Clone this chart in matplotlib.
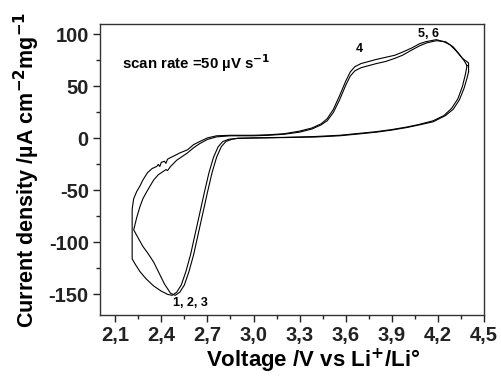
import matplotlib.pyplot as plt
from matplotlib.ticker import MultipleLocator, FuncFormatter

plt.rcParams['font.family'] = ['Liberation Sans', 'DejaVu Sans']
plt.rcParams['font.weight'] = 'bold'
plt.rcParams['mathtext.default'] = 'bf'
plt.rcParams['axes.unicode_minus'] = False

# cycle 1 (outer loop, reaches -116 at the lower limit)
v1 = [4.40, 4.39, 4.37, 4.34, 4.30, 4.25, 4.17, 4.08, 4.00, 3.90, 3.80, 3.70,
      3.56, 3.40, 3.20, 3.00, 2.90, 2.84, 2.80, 2.77, 2.74, 2.71, 2.68, 2.65,
      2.62, 2.59, 2.56, 2.53, 2.50, 2.47, 2.44, 2.40, 2.35, 2.30, 2.26, 2.23,
      2.21, 2.21, 2.21, 2.21, 2.22, 2.24, 2.26, 2.28, 2.31, 2.34, 2.37, 2.38,
      2.39, 2.40, 2.42, 2.43, 2.44, 2.48, 2.52, 2.57, 2.61, 2.65, 2.70, 2.76,
      2.85, 3.00, 3.10, 3.20, 3.30, 3.38, 3.44, 3.48, 3.52, 3.56, 3.60, 3.63,
      3.66, 3.70, 3.75, 3.80, 3.86, 3.92, 3.97, 4.03, 4.08, 4.12, 4.19, 4.24,
      4.28, 4.32, 4.36, 4.40, 4.40]
i1 = [64, 58, 48, 37, 28, 22, 16, 13, 10.5, 8, 6, 4.5,
      2.5, 1.3, 0.8, 0.3, 0, -0.8, -3, -8, -18, -33, -52, -72,
      -92, -112, -128, -141, -148, -151, -150, -147, -142, -135, -128, -121,
      -116, -100, -84, -68, -58, -51, -46, -40, -33, -29, -27, -25,
      -27, -23, -22, -24, -20, -17, -14, -11, -6, -3, 0.5, 2.5,
      3, 3, 3.5, 4.5, 7, 10, 14, 19, 28, 41, 55, 64,
      69, 72, 74, 76, 78, 80, 83, 87, 91, 93, 95, 93,
      90, 84, 77, 72.6, 64]

# cycle 2 (inner loop, turns at about -88)
v2 = [4.39, 4.38, 4.36, 4.33, 4.29, 4.24, 4.17, 4.08, 4.00, 3.90, 3.80, 3.70,
      3.56, 3.40, 3.20, 3.00, 2.90, 2.86, 2.82, 2.79, 2.76, 2.73, 2.70, 2.67,
      2.64, 2.61, 2.58, 2.55, 2.52, 2.49, 2.46, 2.42, 2.38, 2.35, 2.31, 2.28,
      2.25, 2.22, 2.23, 2.24, 2.26, 2.28, 2.31, 2.35, 2.38, 2.41, 2.43, 2.44,
      2.46, 2.50, 2.54, 2.57, 2.61, 2.65, 2.70, 2.76, 2.85, 3.00, 3.10, 3.20,
      3.30, 3.38, 3.44, 3.48, 3.52, 3.56, 3.60, 3.63, 3.66, 3.70, 3.75, 3.80,
      3.86, 3.92, 3.97, 4.03, 4.08, 4.13, 4.19, 4.25, 4.30, 4.34, 4.37, 4.39]
i2 = [70, 62, 50, 38, 29, 22, 17, 13.5, 11, 8.5, 6.5, 5,
      3, 1.8, 1, 0.5, 0.2, -0.8, -3, -8, -18, -33, -52, -72,
      -92, -112, -128, -141, -148, -151, -149, -140, -128, -119, -110, -104,
      -96, -88, -82, -76, -66, -58, -50, -40, -35, -32, -30, -31,
      -27, -21, -17, -14, -9, -5, -1, 1.5, 2.5, 2.5, 3, 4,
      6, 9, 13, 17, 25, 37, 51, 60, 65, 68, 70, 72,
      74, 77, 80, 85, 89, 92, 94, 93, 88, 81, 75, 70]

fig = plt.figure(figsize=(5.02, 3.76), dpi=100)
ax = fig.add_axes([0.199, 0.162, 0.765, 0.774])

ax.plot(v1, i1, color='black', lw=0.8)
ax.plot(v2, i2, color='black', lw=0.8)

ax.set_xlim(2.0, 4.5)
ax.set_ylim(-170, 110)
ax.set_xticks([2.1 + 0.3 * k for k in range(9)])
ax.xaxis.set_minor_locator(MultipleLocator(0.15))
ax.yaxis.set_major_locator(MultipleLocator(50))
ax.yaxis.set_minor_locator(MultipleLocator(25))
ax.xaxis.set_major_formatter(FuncFormatter(lambda x, p: f"{x:.1f}".replace('.', ',')))
ax.tick_params(which='major', direction='out', length=5, width=1, labelsize=14.5,
               colors='#222222', pad=3)
ax.tick_params(which='minor', direction='out', length=3, width=1, colors='#222222')
for lab in ax.get_xticklabels() + ax.get_yticklabels():
    lab.set_fontweight('bold')
for s in ax.spines.values():
    s.set_color('#333333')
    s.set_linewidth(1.0)

ax.set_xlabel(r"Voltage /V vs Li$^{+}$/Li°", fontsize=16, fontweight='bold', va='center')
ax.set_ylabel(r"Current density /µA cm$^{-2}$mg$^{-1}$", fontsize=15.5, fontweight='bold', va='center')
ax.xaxis.set_label_coords(0.555, -0.158)
ax.yaxis.set_label_coords(-0.19, 0.498)

ax.text(0.057, 0.866, r"scan rate =50 µV s$^{-1}$", transform=ax.transAxes,
        fontsize=10.8, fontweight='bold', va='center', ha='left')
ax.text(3.69, 86, "4", fontsize=9, fontweight='bold', ha='center', va='center')
ax.text(4.14, 100, "5, 6", fontsize=9, fontweight='bold', ha='center', va='center')
ax.text(2.59, -158, "1, 2, 3", fontsize=9, fontweight='bold', ha='center', va='center')

fig.savefig("out.png", dpi=100)
